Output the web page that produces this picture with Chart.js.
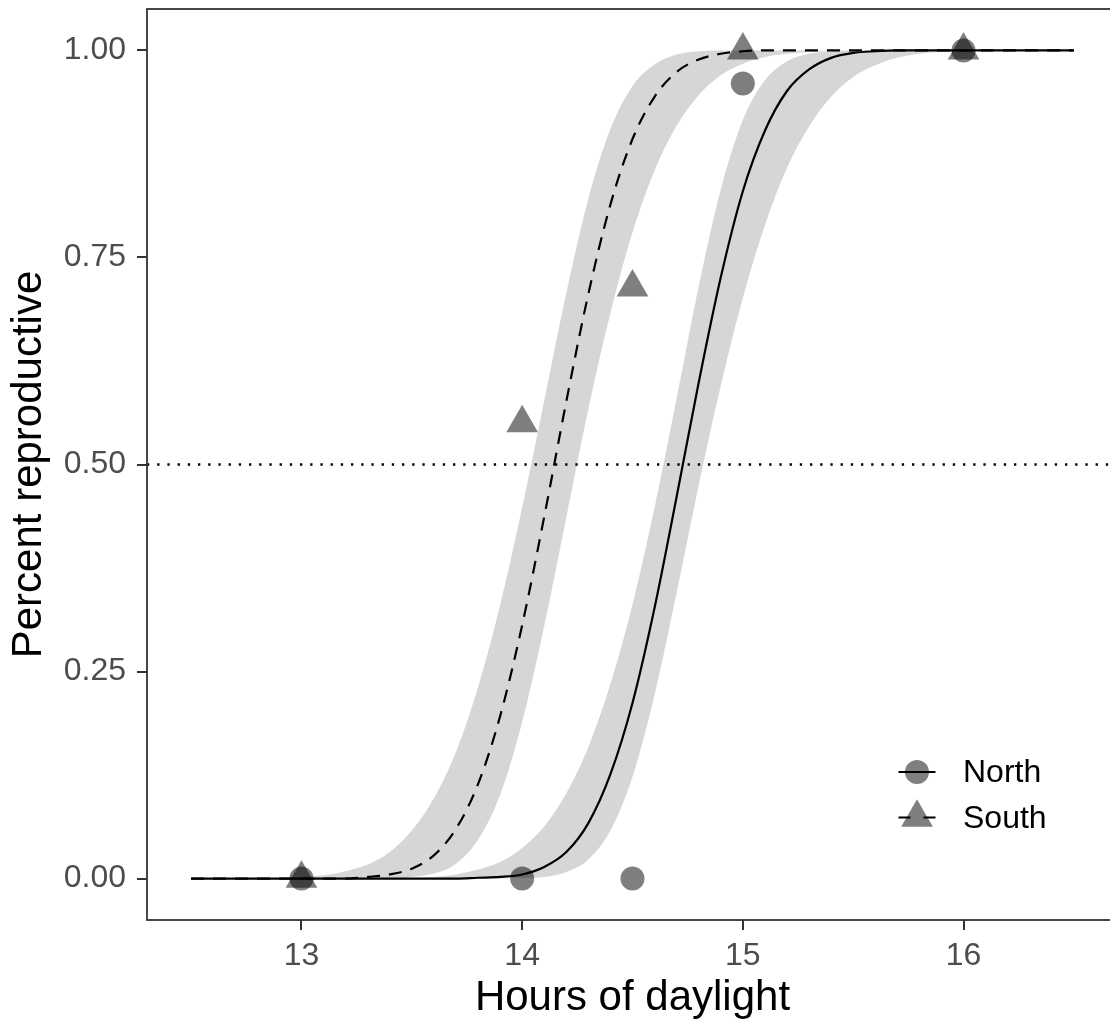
<!DOCTYPE html>
<html>
<head>
<meta charset="utf-8">
<title>Percent reproductive by hours of daylight</title>
<script src="https://cdn.jsdelivr.net/npm/chart.js@4.4.1/dist/chart.umd.min.js"></script>
<style>
  html, body { margin: 0; padding: 0; background: #fff; overflow: hidden; }
  #wrap { position: relative; width: 1110px; height: 1023px; overflow: hidden; }
  #chart { position: absolute; left: 0; top: 0; }
</style>
</head>
<body>
<div id="wrap"><canvas id="chart" width="1140" height="1023"></canvas></div>
<script>
// Grid of day lengths for the fitted curves
const hours = [12.5, 12.6, 12.7, 12.8, 12.9, 13.0, 13.1, 13.2, 13.3, 13.4,
  13.5, 13.6, 13.7, 13.8, 13.9, 14.0, 14.1, 14.2, 14.3, 14.4,
  14.5, 14.6, 14.7, 14.8, 14.9, 15.0, 15.1, 15.2, 15.3, 15.4,
  15.5, 15.6, 15.7, 15.8, 15.9, 16.0, 16.1, 16.2, 16.3, 16.4, 16.5];

// South population: fitted proportion and 95% band
const southFit = [0, 0, 0, 0, 0, 0, 0, 0, 0.002, 0.005,
  0.012, 0.028, 0.060, 0.114, 0.196, 0.306, 0.437, 0.576, 0.706, 0.814,
  0.893, 0.944, 0.974, 0.989, 0.996, 0.999, 1, 1, 1, 1,
  1, 1, 1, 1, 1, 1, 1, 1, 1, 1, 1];
const southLow = [0, 0, 0, 0, 0, 0, 0, 0, 0, 0,
  0.002, 0.006, 0.018, 0.047, 0.101, 0.189, 0.305, 0.436, 0.567, 0.683,
  0.780, 0.855, 0.909, 0.946, 0.970, 0.984, 0.992, 0.996, 0.998, 0.999,
  1, 1, 1, 1, 1, 1, 1, 1, 1, 1, 1];
const southHigh = [0, 0, 0, 0, 0.001, 0.002, 0.004, 0.009, 0.017, 0.032,
  0.058, 0.097, 0.153, 0.231, 0.330, 0.448, 0.577, 0.707, 0.821, 0.905,
  0.957, 0.983, 0.995, 0.999, 1, 1, 1, 1, 1, 1,
  1, 1, 1, 1, 1, 1, 1, 1, 1, 1, 1];

// North population: fitted proportion and 95% band
const northFit = [0, 0, 0, 0, 0, 0, 0, 0, 0, 0,
  0, 0, 0, 0.001, 0.002, 0.005, 0.014, 0.032, 0.067, 0.126,
  0.212, 0.327, 0.461, 0.599, 0.726, 0.830, 0.903, 0.951, 0.977, 0.991,
  0.997, 0.999, 1, 1, 1, 1, 1, 1, 1, 1, 1];
const northLow = [0, 0, 0, 0, 0, 0, 0, 0, 0, 0,
  0, 0, 0, 0, 0, 0.001, 0.002, 0.008, 0.023, 0.058,
  0.123, 0.222, 0.345, 0.475, 0.595, 0.701, 0.789, 0.858, 0.908, 0.944,
  0.968, 0.982, 0.991, 0.996, 0.998, 0.999, 1, 1, 1, 1, 1];
const northHigh = [0, 0, 0, 0, 0, 0, 0, 0, 0, 0,
  0.001, 0.002, 0.005, 0.011, 0.020, 0.037, 0.063, 0.103, 0.159, 0.235,
  0.331, 0.448, 0.580, 0.715, 0.832, 0.916, 0.964, 0.987, 0.996, 0.999,
  1, 1, 1, 1, 1, 1, 1, 1, 1, 1, 1];

// Observed proportions
const obsHours = [13, 14, 14.5, 15, 16];
const northObs = [0, 0, 0, 0.96, 1];
const southObs = [0, 0.55, 0.714, 1, 1];

const cutoff = 0.5;

const xLimits = [12.3, 16.7];
const yLimits = [-0.05, 1.05];
const xTicks = [13, 14, 15, 16];
const yTicks = [0, 0.25, 0.5, 0.75, 1];
const yTickLabels = ["0.00", "0.25", "0.50", "0.75", "1.00"];

const FONT = "'Liberation Sans', Arial, Helvetica, sans-serif";
const POINT_FILL = "rgba(0, 0, 0, 0.5)";
const BAND_FILL = "rgba(153, 153, 153, 0.4)";
const SOUTH_DASH = [13, 9];

const toXY = (xs, ys) => xs.map((x, i) => ({ x: x, y: ys[i] }));

const band = (label, values, fill) => ({
  label: label,
  data: toXY(hours, values),
  borderWidth: 0,
  borderColor: "transparent",
  backgroundColor: BAND_FILL,
  pointRadius: 0,
  fill: fill,
  cubicInterpolationMode: "monotone",
  order: 3
});

const fitLine = (label, values, dash) => ({
  label: label,
  data: toXY(hours, values),
  borderColor: "#000",
  borderWidth: 2.2,
  borderDash: dash,
  pointRadius: 0,
  fill: false,
  cubicInterpolationMode: "monotone",
  order: 1
});

const observed = (label, values, style, radius) => ({
  label: label,
  data: toXY(obsHours, values),
  showLine: false,
  pointStyle: style,
  pointRadius: radius,
  pointBorderWidth: 0,
  pointBackgroundColor: POINT_FILL,
  order: 0
});

// Panel outline drawn over everything, like a plot frame
const panelBorder = {
  id: "panelBorder",
  afterDraw(chart) {
    const { ctx, chartArea: a } = chart;
    ctx.save();
    ctx.strokeStyle = "#333333";
    ctx.lineWidth = 1.8;
    ctx.strokeRect(a.left, a.top, a.right - a.left, a.bottom - a.top);
    ctx.restore();
  }
};

// Legend inside the panel: line + marker for each population
const keyItems = [
  { label: "North", style: "circle", radius: 12, dash: [] },
  { label: "South", style: "triangle", radius: 18.3, dash: [12, 13] }
];
const insideLegend = {
  id: "insideLegend",
  afterDraw(chart) {
    const { ctx, chartArea: a } = chart;
    const keyX = a.right - 201;
    const rows = [a.bottom - 148, a.bottom - 102.5];
    ctx.save();
    keyItems.forEach((item, i) => {
      const y = rows[i];
      ctx.strokeStyle = "#000";
      ctx.lineWidth = 2.2;
      ctx.setLineDash(item.dash);
      ctx.beginPath();
      ctx.moveTo(keyX - 18.5, y);
      ctx.lineTo(keyX + 18.5, y);
      ctx.stroke();
      ctx.setLineDash([]);
      ctx.fillStyle = POINT_FILL;
      Chart.helpers.drawPoint(ctx, { pointStyle: item.style, radius: item.radius, rotation: 0, borderWidth: 0 }, keyX, y);
      ctx.fillStyle = "#000";
      ctx.font = "32px " + FONT;
      ctx.textAlign = "left";
      ctx.textBaseline = "middle";
      ctx.fillText(item.label, keyX + 46, y + 1.5);
    });
    ctx.restore();
  }
};

new Chart(document.getElementById("chart"), {
  type: "line",
  data: {
    datasets: [
      band("South upper", southHigh, "+1"),
      band("South lower", southLow, false),
      band("North upper", northHigh, "+1"),
      band("North lower", northLow, false),
      {
        label: "Half reproductive",
        data: [{ x: xLimits[0], y: cutoff }, { x: xLimits[1], y: cutoff }],
        borderColor: "#000",
        borderWidth: 2.3,
        borderDash: [2.3, 7.9],
        pointRadius: 0,
        fill: false,
        order: 2
      },
      fitLine("South fit", southFit, SOUTH_DASH),
      fitLine("North fit", northFit, []),
      observed("North", northObs, "circle", 12),
      observed("South", southObs, "triangle", 18.3)
    ]
  },
  options: {
    responsive: false,
    animation: false,
    devicePixelRatio: 1,
    events: [],
    layout: { autoPadding: false, padding: { top: 9, right: 22, left: 0, bottom: 0 } },
    plugins: {
      legend: { display: false },
      tooltip: { enabled: false }
    },
    scales: {
      x: {
        type: "linear",
        min: xLimits[0],
        max: xLimits[1],
        afterBuildTicks: (scale) => { scale.ticks = xTicks.map(v => ({ value: v })); },
        afterFit: (scale) => {
          scale.height = 103;
          scale.paddingLeft = 0;
          scale.paddingRight = 0;
        },
        ticks: {
          color: "#4d4d4d",
          font: { family: FONT, size: 32 },
          padding: 7,
          maxRotation: 0,
          autoSkip: false,
          callback: (value) => String(value)
        },
        grid: { drawOnChartArea: false, drawTicks: true, tickLength: 10, color: "#333333", lineWidth: 2 },
        border: { display: false },
        title: {
          display: true,
          text: "Hours of daylight",
          color: "#000",
          font: { family: FONT, size: 42, lineHeight: 1 },
          padding: { top: 0, bottom: 4 }
        }
      },
      y: {
        type: "linear",
        min: yLimits[0],
        max: yLimits[1],
        afterBuildTicks: (scale) => { scale.ticks = yTicks.map(v => ({ value: v })); },
        afterFit: (scale) => {
          scale.width = 147;
          scale.paddingTop = 0;
          scale.paddingBottom = 0;
        },
        ticks: {
          color: "#4d4d4d",
          font: { family: FONT, size: 32 },
          padding: 11,
          autoSkip: false,
          callback: (value, index) => yTickLabels[index]
        },
        grid: { drawOnChartArea: false, drawTicks: true, tickLength: 10, color: "#333333", lineWidth: 2 },
        border: { display: false },
        title: {
          display: true,
          text: "Percent reproductive",
          color: "#000",
          font: { family: FONT, size: 42, lineHeight: 1 },
          padding: { top: 8, bottom: 0 }
        }
      }
    }
  },
  plugins: [panelBorder, insideLegend]
});
</script>
</body>
</html>
